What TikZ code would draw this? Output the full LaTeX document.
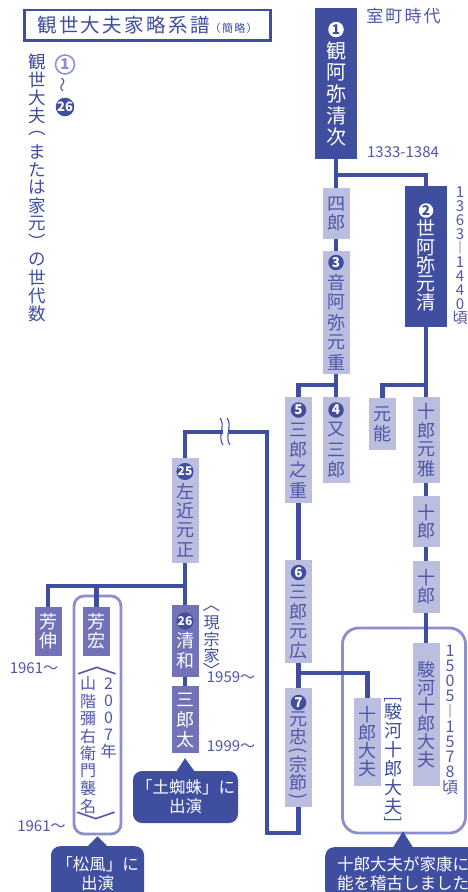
\documentclass[tikz,border=0pt]{standalone}
\usepackage{fontspec}
\usepackage{graphicx}
\setmainfont{Noto Sans CJK JP}
\newfontfamily\jph{Noto Sans CJK JP}[LetterSpace=12]
\usetikzlibrary{calc}
\definecolor{dkblue}{HTML}{404EA0}
\definecolor{ltbox}{HTML}{BCBEE0}
\definecolor{pbox}{HTML}{7272B8}
\definecolor{lframe}{HTML}{8C8ECD}
\definecolor{mtext}{HTML}{4F57A8}
\newcommand\fs[1]{\fontsize{#1}{#1}\selectfont}
\newcommand\vrot[1]{\rotatebox{-90}{#1}}
\ExplSyntaxOn
\dim_new:N \l__vt_pitch_dim
\cs_new_protected:Npn \vs #1 #2
  {
    \hbox_to_wd:nn {1.1em}
      { \hss \vbox_to_ht:nn { #1 \l__vt_pitch_dim } { \vss \hbox:n {#2} \vss } \hss }
  }
\NewDocumentCommand \vt { O{1em} m }
  {
    \vbox:n
      {
        \offinterlineskip
        \dim_set:Nn \l__vt_pitch_dim {#1}
        \tl_map_inline:nn {#2}
          { \tl_if_head_eq_meaning:nNTF {##1} \vs {##1} { \vs {1} {##1} } }
      }
  }
\ExplSyntaxOff
\tikzset{
  conn/.style={draw=dkblue, line width=4.2pt},
  dbox/.style={fill=dkblue, text=white, inner sep=0pt, minimum width=42pt},
  lbox/.style={fill=ltbox, text=mtext, inner sep=0pt, minimum width=27pt, font=\fs{18}},
  pboxs/.style={fill=pbox, text=white, inner sep=0pt, minimum width=27pt, font=\fs{18}},
  cdark/.style={circle, fill=dkblue, text=white, inner sep=0pt, minimum size=15.5pt, font=\fs{13.5}\bfseries},
  cwhite/.style={circle, fill=white, text=dkblue, inner sep=0pt, minimum size=15.5pt, font=\fs{13.5}\bfseries},
  lbl/.style={text=mtext, inner sep=0pt, font=\fs{15}},
  frm/.style={draw=lframe, line width=2.8pt, inner sep=0pt},
  callout/.style={fill=dkblue, text=white, rounded corners=9pt, inner sep=0pt, font=\fontsize{16.5}{19}\selectfont}
}
\begin{document}
\begin{tikzpicture}[x=1pt,y=-1pt]
\useasboundingbox (0,0) rectangle (467,892);
\fill[white] (0,0) rectangle (467,892);

% frames
\node[frm, rounded corners=16pt, minimum width=123, minimum height=205] (fr2) at (404,730.5) {};
\node[frm, rounded corners=10pt, minimum width=47, minimum height=238] (fr1) at (97.5,715) {};

% title and legend
\node[draw=dkblue, line width=2.6pt, minimum width=246, minimum height=30.5, inner sep=0pt, text=dkblue, font=\fs{19.5}\jph] (title) at (147.5,25.3) {観世大夫家略系譜{\fs{11}（簡略）}};
\node[lbl, text=dkblue, font=\fs{17.5}] (leg) at (37,187.5) {\vt[18pt]{観世大夫︵または家元︶の世代数}};
\node[circle, draw=lframe, line width=1.5pt, text=lframe, minimum size=19pt, inner sep=0pt, font=\fs{15}\bfseries] (lg1) at (65,64.5) {1};
\node[lbl, text=dkblue, font=\fs{15}] (lgt) at (64.5,85) {\rotatebox{90}{～}};
\node[cdark, minimum size=18pt, font=\fs{13}\bfseries] (lg26) at (65,107) {26};

% dark boxes
\node[dbox, minimum height=151, font=\fs{20}] (n1) at (336,83.5) {\vt[21.5pt]{{}観阿弥清次}};
\node[dbox, minimum height=141, font=\fs{19}] (n2) at (426,256.5) {\vt[18.5pt]{{}世阿弥元清}};

% light boxes
\node[lbox, minimum height=51] (s4r) at (336,213.5) {\vt[18pt]{四郎}};
\node[lbox, minimum height=123] (n3) at (336,312.5) {\vt[20pt]{{}音阿弥元重}};
\node[lbox, minimum height=86] (n4) at (336,440) {\vt[20pt]{{}又三郎}};
\node[lbox, minimum height=106] (n5) at (298.5,450) {\vt[20pt]{{}三郎之重}};
\node[lbox, minimum height=52] (mot) at (382.5,424) {\vt[19pt]{元能}};
\node[lbox, minimum height=86] (jmg) at (426,440) {\vt[19pt]{十郎元雅}};
\node[lbox, minimum height=51] (jr1) at (426,521.5) {\vt[18pt]{十郎}};
\node[lbox, minimum height=52] (jr2) at (426,587) {\vt[18pt]{十郎}};
\node[lbox, minimum height=143] (sjr) at (426,714.5) {\vt[18pt]{駿河十郎大夫}};
\node[lbox, minimum height=103] (n6) at (298.5,611.5) {\vt[19.5pt]{{}三郎元広}};
\node[lbox, minimum height=119] (n7) at (298.5,747.5) {\vt[17.5pt]{{}元忠{\vs{0.6}{\vrot{(}}}宗節{\vs{0.6}{\vrot{)}}}}};
\node[lbox, minimum height=88] (jdf) at (367.5,742) {\vt[18pt]{十郎大夫}};
\node[lbox, minimum height=105] (n25) at (185,510.5) {\vt[19.5pt]{{}左近元正}};

% purple boxes
\node[pboxs, minimum height=49] (yn) at (48,631.5) {\vt[19pt]{芳伸}};
\node[pboxs, minimum height=49] (yh) at (96.5,631.5) {\vt[19pt]{芳宏}};
\node[pboxs, minimum height=72] (n26) at (185,641) {\vt[20pt]{{}清和}};
\node[pboxs, minimum height=67] (sbt) at (185,719.5) {\vt[20pt]{三郎太}};

% circled numbers
\node[cwhite] (c1) at (336,29.5) {1};
\node[cwhite, minimum size=14.5pt] (c2) at (426,210.5) {2};
\node[cdark] (c3) at (336,262.5) {3};
\node[cdark] (c4) at (336,410) {4};
\node[cdark] (c5) at (298.5,410) {5};
\node[cdark] (c6) at (298.5,572.5) {6};
\node[cdark] (c7) at (298.5,702.5) {7};
\node[cdark, minimum size=16.5pt, font=\fs{12}\bfseries] (c25) at (185,471.5) {25};
\node[cdark, minimum size=16pt, font=\fs{12}\bfseries] (c26) at (185,621) {26};

% labels
\node[lbl, font=\fs{17}\jph] (muro) at (403.5,16.5) {室町時代};
\node[lbl] (d1) at (403,152.5) {1333-1384};
\node[lbl] (d2) at (460,255) {\vt[14pt]{1363︱1440頃}};
\node[lbl, font=\fs{16}] (d3) at (450,719) {\vt[15.2pt]{1505︱1578頃}};
\node[lbl, text=dkblue, font=\fs{18}] (sjr2) at (393,759.5) {\vt[19pt]{{\vs{0.35}{\vrot{[}}}駿河十郎大夫{\vs{0.35}{\vrot{]}}}}};
\node[lbl, text=dkblue, font=\fs{16}] (gs) at (211.5,639) {\vt[16pt]{現宗家}};
\node[lbl, text=dkblue, font=\fs{16}] (gk1) at (211.5,609) {\scalebox{1.1}[1]{︿}};
\node[lbl, text=dkblue, font=\fs{16}] (gk2) at (211.5,669.5) {\scalebox{1.1}[1]{﹀}};
\node[lbl, text=mtext, font=\fs{16}] (yc1) at (108.5,717.5) {\vt[16.8pt]{2007年}};
\node[lbl, text=mtext, font=\fs{16}] (yc2) at (88,745) {\vt[17.5pt]{山階彌右衛門襲名}};
\node[lbl, text=mtext, font=\fs{16}] (yk1) at (97,670.5) {\scalebox{2.6}[1.4]{︿}};
\node[lbl, text=mtext, font=\fs{16}] (yk2) at (96,821.5) {\scalebox{2.6}[1.4]{﹀}};
\node[lbl] (d4) at (34,668.5) {1961～};
\node[lbl] (d5) at (41.5,826) {1961～};
\node[lbl] (d6) at (231,677.5) {1959～};
\node[lbl] (d7) at (231,746) {1999～};

% connectors
\coordinate (j1) at (336,175);
\coordinate (j3) at (336,385);
\coordinate (j4) at (426,385);
\coordinate (j7) at (298.5,673);
\coordinate (b1) at (267,833);
\coordinate (b2) at (267,432);
\coordinate (j6) at (185,586);
\draw[conn] (n1.south) -- (s4r.north);
\draw[conn] (j1) -| (n2.north);
\draw[conn] (s4r.south) -- (n3.north);
\draw[conn] (n3.south) -- (n4.north);
\draw[conn] (j3) -| (n5.north);
\draw[conn] (n2.south) -- (jmg.north);
\draw[conn] (j4) -| (mot.north);
\draw[conn] (jmg.south) -- (jr1.north);
\draw[conn] (jr1.south) -- (jr2.north);
\draw[conn] (jr2.south) -- (sjr.north);
\draw[conn] (n5.south) -- (n6.north);
\draw[conn] (n6.south) -- (n7.north);
\draw[conn] (j7) -| (jdf.north);
\draw[conn] (n7.south) |- (b1) -- (b2) -| (n25.north);
\draw[conn] (n25.south) -- (n26.north);
\draw[conn] (j6) -| (yn.north);
\draw[conn] (yh.north) -- (yh.north |- j6);
\draw[conn] (n26.south) -- (sbt.north);

% break mark
\fill[white] (222.5,428) rectangle (228.5,436);
\draw[dkblue, line width=1.1pt] (220,418) .. controls (226,425) and (217,437) .. (223,445);
\draw[dkblue, line width=1.1pt] (227,418) .. controls (233,425) and (224,437) .. (230,445);

% callouts
\node[callout, align=center, minimum width=105, minimum height=52] (co1) at (185.5,797) {「土蜘蛛」に\\出演};
\fill[dkblue] ($(co1.north)+(-9,0.5)$) -- ($(sbt.south)+(0,5)$) -- ($(co1.north)+(9,0.5)$) -- cycle;
\node[callout, align=center, anchor=north, minimum width=93, minimum height=54] (co2) at (97.5,846) {「松風」に\\出演};
\fill[dkblue] ($(co2.north)+(-10,0.5)$) -- ($(fr1.south)+(0,1)$) -- ($(co2.north)+(10,0.5)$) -- cycle;
\node[callout, align=left, anchor=north west, inner xsep=12pt, minimum height=52] (co3) at (325,847) {十郎大夫が家康に\\能を稽古しました。};
\fill[dkblue] ($(co3.north west)+(68,0.5)$) -- ($(fr2.south)+(-1,-3)$) -- ($(co3.north west)+(88,0.5)$) -- cycle;
\end{tikzpicture}
\end{document}
